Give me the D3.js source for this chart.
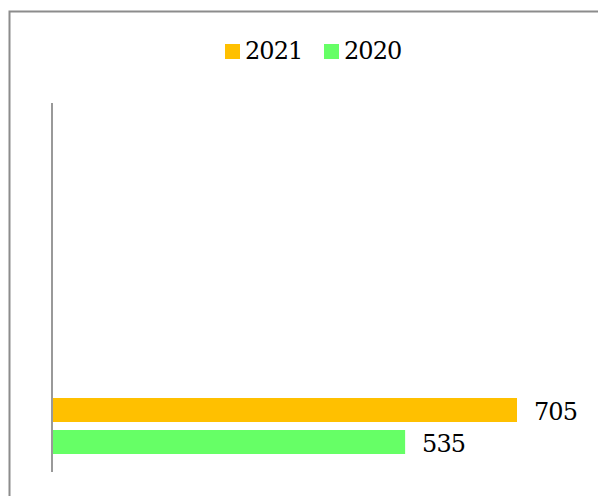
<!DOCTYPE html>
<html><head><meta charset="utf-8">
<script src="https://cdn.jsdelivr.net/npm/d3@7"></script>
<style>html,body{margin:0;padding:0;background:#fff;overflow:hidden}</style>
</head><body>
<script>
const categories = ["Total"];
const seriesNames = ["2021", "2020"];
const values2021 = [705];
const values2020 = [535];
const colors = ["#FFC000", "#66FF66"];

const W = 598, H = 496;
const svg = d3.select("body").append("svg").attr("width", W).attr("height", H);
const font = "'DejaVu Serif', serif";

// outer border
svg.append("rect").attr("x", 9.5).attr("y", 11.5).attr("width", W + 10).attr("height", H + 10)
  .attr("fill", "none").attr("stroke", "#8c8c8c").attr("stroke-width", 2);

const seriesVals = [values2021, values2020];
const x = d3.scaleLinear().domain([0, 705]).range([53, 517]);
const yCat = d3.scaleBand().domain(categories).range([398, 454]);
const ySer = d3.scaleBand().domain(seriesNames).range([0, yCat.bandwidth()]).paddingInner(0.25);

categories.forEach((c, ci) => {
  seriesNames.forEach((s, si) => {
    const v = seriesVals[si][ci];
    const y = yCat(c) + ySer(s);
    svg.append("rect").attr("x", x(0)).attr("y", y).attr("width", x(v) - x(0))
      .attr("height", ySer.bandwidth()).attr("fill", colors[si]);
    svg.append("text").attr("x", x(v) + 17).attr("y", y + ySer.bandwidth() / 2 + 1)
      .attr("dy", "0.36em").attr("font-family", font).attr("font-size", 24)
      .attr("letter-spacing", -0.9).attr("fill", "#000").text(v);
  });
});

// axis line
svg.append("line").attr("x1", 52).attr("x2", 52).attr("y1", 103).attr("y2", 472)
  .attr("stroke", "#999").attr("stroke-width", 2);

// legend
const legendPos = [225, 324];
seriesNames.forEach((s, i) => {
  const g = svg.append("g").attr("transform", `translate(${legendPos[i]},44)`);
  g.append("rect").attr("width", 15).attr("height", 15).attr("fill", colors[i]);
  g.append("text").attr("x", 20).attr("y", 6.5).attr("dy", "0.36em")
    .attr("font-family", font).attr("font-size", 24).attr("letter-spacing", -0.9)
    .attr("fill", "#000").text(s);
});
</script>
</body></html>
